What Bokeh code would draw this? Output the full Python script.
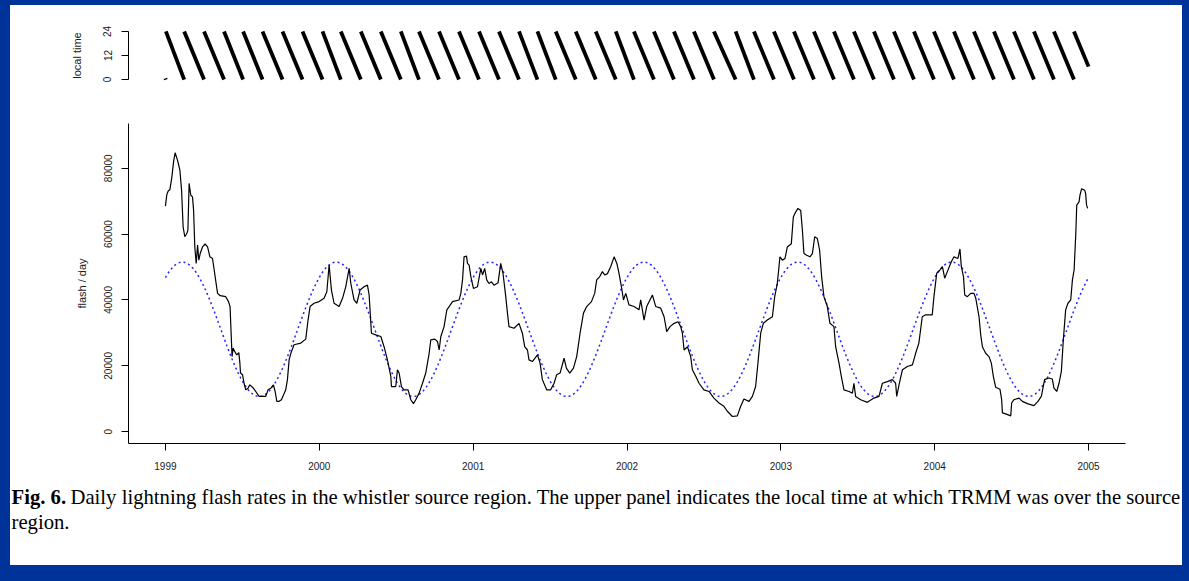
import numpy as np
from bokeh.plotting import figure
from bokeh.layouts import column
from bokeh.models import Range1d, FixedTicker, BasicTickFormatter
from bokeh.core.properties import value
from bokeh.embed import file_html
from bokeh.resources import INLINE

# ---------------------------------------------------------------
# Daily lightning flash rate in the whistler source region
# (decimal year, flashes per day)
# ---------------------------------------------------------------
flash_year = [
    1999.000, 1999.009, 1999.018, 1999.029, 1999.042, 1999.053, 1999.063, 1999.079, 1999.094, 1999.105,
    1999.115, 1999.126, 1999.139, 1999.146, 1999.154, 1999.165, 1999.176, 1999.183, 1999.191, 1999.200,
    1999.209, 1999.217, 1999.226, 1999.241, 1999.258, 1999.274, 1999.289, 1999.306, 1999.317, 1999.328,
    1999.339, 1999.356, 1999.392, 1999.410, 1999.420, 1999.427, 1999.433, 1999.440, 1999.451, 1999.464,
    1999.477, 1999.484, 1999.488, 1999.501, 1999.511, 1999.522, 1999.537, 1999.548, 1999.566, 1999.587,
    1999.609, 1999.652, 1999.667, 1999.685, 1999.702, 1999.713, 1999.724, 1999.739, 1999.754, 1999.782,
    1999.793, 1999.804, 1999.815, 1999.836, 1999.880, 1999.912, 1999.927, 1999.940, 1999.966, 1999.999,
    2000.031, 2000.049, 2000.064, 2000.079, 2000.096, 2000.129, 2000.151, 2000.172, 2000.194, 2000.205,
    2000.226, 2000.244, 2000.265, 2000.291, 2000.313, 2000.324, 2000.339, 2000.367, 2000.400, 2000.421,
    2000.443, 2000.465, 2000.469, 2000.497, 2000.508, 2000.519, 2000.534, 2000.551, 2000.577, 2000.595,
    2000.612, 2000.627, 2000.649, 2000.671, 2000.692, 2000.714, 2000.725, 2000.751, 2000.768, 2000.779,
    2000.790, 2000.811, 2000.829, 2000.844, 2000.866, 2000.909, 2000.920, 2000.931, 2000.941, 2000.957,
    2000.963, 2000.974, 2000.985, 2001.002, 2001.028, 2001.050, 2001.061, 2001.075, 2001.088, 2001.103,
    2001.119, 2001.136, 2001.162, 2001.179, 2001.194, 2001.212, 2001.223, 2001.233, 2001.266, 2001.298,
    2001.320, 2001.335, 2001.353, 2001.363, 2001.385, 2001.418, 2001.435, 2001.450, 2001.478, 2001.504,
    2001.526, 2001.543, 2001.565, 2001.591, 2001.606, 2001.628, 2001.652, 2001.673, 2001.695, 2001.717,
    2001.738, 2001.769, 2001.790, 2001.803, 2001.823, 2001.840, 2001.855, 2001.873, 2001.894, 2001.916,
    2001.934, 2001.948, 2001.964, 2001.977, 2001.992, 2002.013, 2002.046, 2002.078, 2002.089, 2002.111,
    2002.128, 2002.165, 2002.187, 2002.219, 2002.241, 2002.258, 2002.280, 2002.306, 2002.332, 2002.349,
    2002.360, 2002.371, 2002.393, 2002.414, 2002.425, 2002.447, 2002.468, 2002.500, 2002.533, 2002.565,
    2002.598, 2002.630, 2002.652, 2002.685, 2002.717, 2002.739, 2002.760, 2002.793, 2002.815, 2002.836,
    2002.851, 2002.869, 2002.886, 2002.912, 2002.945, 2002.960, 2002.977, 2002.994, 2003.010, 2003.027,
    2003.042, 2003.068, 2003.081, 2003.096, 2003.111, 2003.129, 2003.140, 2003.150, 2003.168, 2003.189,
    2003.205, 2003.220, 2003.237, 2003.252, 2003.265, 2003.280, 2003.302, 2003.319, 2003.345, 2003.356,
    2003.378, 2003.393, 2003.410, 2003.443, 2003.465, 2003.475, 2003.486, 2003.519, 2003.562, 2003.605,
    2003.638, 2003.660, 2003.692, 2003.725, 2003.746, 2003.753, 2003.768, 2003.790, 2003.822, 2003.855,
    2003.876, 2003.897, 2003.919, 2003.941, 2003.984, 2003.995, 2004.013, 2004.034, 2004.050, 2004.065,
    2004.082, 2004.108, 2004.125, 2004.151, 2004.164, 2004.173, 2004.187, 2004.195, 2004.212, 2004.234,
    2004.255, 2004.267, 2004.288, 2004.299, 2004.310, 2004.331, 2004.353, 2004.368, 2004.381, 2004.396,
    2004.424, 2004.435, 2004.440, 2004.461, 2004.494, 2004.500, 2004.515, 2004.548, 2004.570, 2004.602,
    2004.645, 2004.671, 2004.693, 2004.714, 2004.742, 2004.764, 2004.775, 2004.793, 2004.808, 2004.823,
    2004.836, 2004.851, 2004.866, 2004.884, 2004.895, 2004.906, 2004.917, 2004.923, 2004.938, 2004.944,
    2004.955, 2004.975, 2004.981, 2004.987, 2004.994,
]
flash_rate = [
    68500, 72000, 73100, 73500, 77400, 82000, 84700, 82400, 79400, 73300,
    62200, 59200, 60200, 61200, 75400, 71800, 71300, 67300, 56100, 51100,
    56700, 52100, 54100, 56100, 57000, 56100, 53100, 52600, 49100, 45500,
    42000, 41300, 41000, 39500, 38000, 29900, 22800, 25400, 24300, 23300,
    24000, 20800, 17800, 17300, 14700, 12700, 13200, 14200, 13500, 12200,
    10700, 10700, 12700, 13200, 14200, 12200, 9200, 9200, 9700, 12700,
    15800, 21800, 23800, 26400, 26900, 28100, 33900, 38000, 39000, 39500,
    40500, 42500, 50600, 43000, 39000, 38000, 40500, 44000, 49600, 45000,
    40000, 39000, 43000, 44000, 44500, 41500, 29900, 29400, 28900, 25800,
    21800, 16800, 13700, 13700, 18800, 17800, 13700, 12700, 12700, 9700,
    8500, 9700, 11700, 14700, 17800, 23800, 27900, 28100, 27400, 24800,
    28900, 31900, 37000, 38000, 39500, 40000, 42000, 46100, 53100, 53300,
    51100, 50600, 47100, 43500, 44000, 49600, 47600, 49600, 46100, 45000,
    45500, 44500, 45200, 51100, 48100, 41000, 36000, 31900, 31400, 32900,
    29900, 25800, 24800, 21800, 21300, 23300, 20800, 15800, 12700, 12700,
    14700, 17300, 17800, 22300, 19300, 17800, 19300, 22800, 29900, 36000,
    38000, 39500, 42000, 46100, 47100, 48600, 47600, 48000, 50100, 53100,
    51100, 48100, 44000, 40000, 42000, 38500, 38000, 37000, 40000, 33900,
    38000, 41500, 38000, 37500, 34900, 30400, 31900, 32900, 33400, 31900,
    29900, 24800, 25800, 22800, 18800, 16800, 14700, 12700, 12200, 10200,
    8700, 7700, 6200, 4600, 4800, 7700, 9900, 9200, 10700, 13700,
    20800, 29900, 32900, 33900, 34900, 41000, 45000, 53100, 52100, 52600,
    56100, 57100, 65200, 66700, 67800, 67200, 61200, 54100, 53600, 53100,
    54100, 59200, 58700, 55100, 47100, 41000, 38000, 32900, 31900, 25800,
    20800, 16800, 12700, 12200, 11700, 14700, 10700, 9700, 8900, 10200,
    10700, 14700, 15200, 15800, 14700, 10700, 14200, 18800, 19800, 20300,
    23800, 26900, 34900, 35500, 35500, 41000, 48100, 49100, 50100, 46600,
    48600, 51600, 53100, 52600, 55500, 50100, 47100, 41500, 41000, 42000,
    42000, 40500, 34900, 29400, 25800, 23800, 22800, 20800, 16800, 13500,
    12900, 9700, 5700, 5400, 4800, 8700, 9700, 10200, 9200, 8500,
    7900, 9200, 10700, 15800, 16300, 16000, 13200, 12200, 14700, 18300,
    27900, 37000, 39000, 40000, 46100, 49100, 60200, 68800, 69800, 71800,
    73800, 73300, 72300, 68800, 67800,
]
assert len(flash_year) == len(flash_rate)

# Annual-cycle fit drawn as the dotted curve
fit_mean = 31100          # flash / day
fit_amplitude = 20400     # flash / day
fit_peak_phase = 0.11     # fraction of the year at which the fit peaks

# Times (decimal year) at which the TRMM local overpass time wraps back to 24 h
wrap_year = [
    1999.003, 1999.122, 1999.251, 1999.381, 1999.505, 1999.631, 1999.761, 1999.891,
    2000.021, 2000.140, 2000.270, 2000.400, 2000.530, 2000.648, 2000.778, 2000.908,
    2001.038, 2001.168, 2001.298, 2001.418, 2001.537, 2001.667, 2001.797, 2001.927,
    2002.045, 2002.175, 2002.305, 2002.435, 2002.565, 2002.706, 2002.825, 2002.955,
    2003.085, 2003.215, 2003.345, 2003.475, 2003.605, 2003.735, 2003.865, 2003.995,
    2004.125, 2004.255, 2004.385, 2004.515, 2004.645, 2004.775, 2004.905,
]
series_start, series_end = 1999.0, 2005.0

year_ticks = [1999, 2000, 2001, 2002, 2003, 2004, 2005]
flash_ticks = [0, 20000, 40000, 60000, 80000]
hour_ticks = [0, 12, 24]
flash_limits = (0, 90000)
hour_limits = (0, 24)

caption_label = "Fig. 6."
caption_line1 = ("Daily lightning flash rates in the whistler source region.  "
                 "The upper panel indicates the local time at which TRMM was over the source")
caption_line2 = "region."

# ---------------------------------------------------------------
PAGE_BLUE = "#003399"
TEXT = "#1a1a1a"
SANS = "Liberation Sans"
SERIF = "Liberation Serif"
W = 1172
LEFT, RIGHT = 118, 57


def padded(lo, hi, frac=0.04):
    span = hi - lo
    return lo - frac * span, hi + frac * span


x_lo, x_hi = padded(year_ticks[0], year_ticks[-1])
x_range = Range1d(x_lo, x_hi)


def clean(fig):
    fig.outline_line_color = None
    fig.outline_line_alpha = 0
    fig.grid.visible = False
    fig.background_fill_color = "white"
    fig.border_fill_color = "white"


def style_axis(ax, ticks):
    ax.ticker = FixedTicker(ticks=ticks)
    ax.axis_line_color = "black"
    ax.axis_line_width = 1
    ax.major_tick_line_color = "black"
    ax.major_tick_in = 0
    ax.major_tick_out = 7
    ax.minor_tick_line_color = None
    ax.major_label_text_font = SANS
    ax.major_label_text_font_size = "10px"
    ax.major_label_text_color = TEXT
    ax.axis_label_text_font = SANS
    ax.axis_label_text_font_size = "11px"
    ax.axis_label_text_font_style = "normal"
    ax.axis_label_text_color = TEXT
    ax.formatter = BasicTickFormatter(use_scientific=False)


# ---------------- upper panel: local time of the overpass ----------------
hy0, hy1 = padded(*hour_limits)
top = figure(width=W, height=95, x_range=x_range, y_range=Range1d(hy0, hy1),
             output_backend="svg", toolbar_location=None, x_axis_location=None,
             min_border_left=LEFT, min_border_right=RIGHT,
             min_border_top=24, min_border_bottom=19, outline_line_color=None)
clean(top)

xs0, ys0, xs1, ys1 = [], [], [], []
p_first = wrap_year[1] - wrap_year[0]
xs0.append(series_start)
ys0.append(24 * (wrap_year[0] - series_start) / p_first)
xs1.append(wrap_year[0])
ys1.append(0)
for a, b in zip(wrap_year[:-1], wrap_year[1:]):
    xs0.append(a); ys0.append(24); xs1.append(b); ys1.append(0)
p_last = wrap_year[-1] - wrap_year[-2]
xs0.append(wrap_year[-1]); ys0.append(24)
xs1.append(series_end); ys1.append(24 - 24 * (series_end - wrap_year[-1]) / p_last)
top.segment(x0=xs0, y0=ys0, x1=xs1, y1=ys1, line_color="black", line_width=3.8,
            line_cap="butt")

ly = top.yaxis[0]
style_axis(ly, hour_ticks)
ly.bounds = hour_limits
ly.axis_label = "local time"
ly.major_label_orientation = "vertical"
ly.major_label_standoff = 10
ly.axis_label_standoff = 18

# ---------------- lower panel: flash rate ----------------
fy0, fy1 = padded(*flash_limits)
p = figure(width=W, height=380, x_range=x_range, y_range=Range1d(fy0, fy1),
           output_backend="svg", toolbar_location=None,
           min_border_left=LEFT, min_border_right=RIGHT,
           min_border_top=23, min_border_bottom=37, outline_line_color=None)
clean(p)

fit_t = np.linspace(series_start, series_end, 800)
fit_v = fit_mean + fit_amplitude * np.cos(2 * np.pi * (fit_t - fit_peak_phase))
p.line(fit_t, fit_v, line_color="#2424ff", line_width=1.5, line_dash="2 3")
p.line(flash_year, flash_rate, line_color="black", line_width=1.2)

xa = p.xaxis[0]
style_axis(xa, year_ticks)
xa.major_label_standoff = 11

ya = p.yaxis[0]
style_axis(ya, flash_ticks)
ya.axis_label = "flash / day"
ya.major_label_orientation = "vertical"
ya.major_label_standoff = 9
ya.axis_label_standoff = 14

# ---------------- caption strip (pixel-like coordinates) ----------------
CAP_H = 85
cap = figure(width=W, height=CAP_H, x_range=Range1d(0, W), y_range=Range1d(CAP_H, 0),
             output_backend="svg", toolbar_location=None,
             x_axis_location=None, y_axis_location=None,
             min_border_left=0, min_border_right=0, min_border_top=0, min_border_bottom=0,
             outline_line_color=None)
clean(cap)
CAP_SIZE = "20.7px"
cap.text(x=[1], y=[16], text=[caption_label], text_font=value(SERIF),
         text_font_style="bold", text_font_size=CAP_SIZE, text_baseline="middle",
         text_color="black")
cap.text(x=[60], y=[16], text=[caption_line1], text_font=value(SERIF),
         text_font_size=CAP_SIZE, text_baseline="middle", text_color="black")
cap.text(x=[1], y=[41], text=[caption_line2], text_font=value(SERIF),
         text_font_size=CAP_SIZE, text_baseline="middle", text_color="black")

panels = column(top, p, spacing=0, styles={"background-color": "white"})
sheet = column(panels, cap, spacing=0, styles={"background-color": "white"})
page = column(sheet, styles={"background-color": PAGE_BLUE, "padding": "5px 7px 16px 10px"})

open("out.html", "w").write(file_html(page, INLINE))
